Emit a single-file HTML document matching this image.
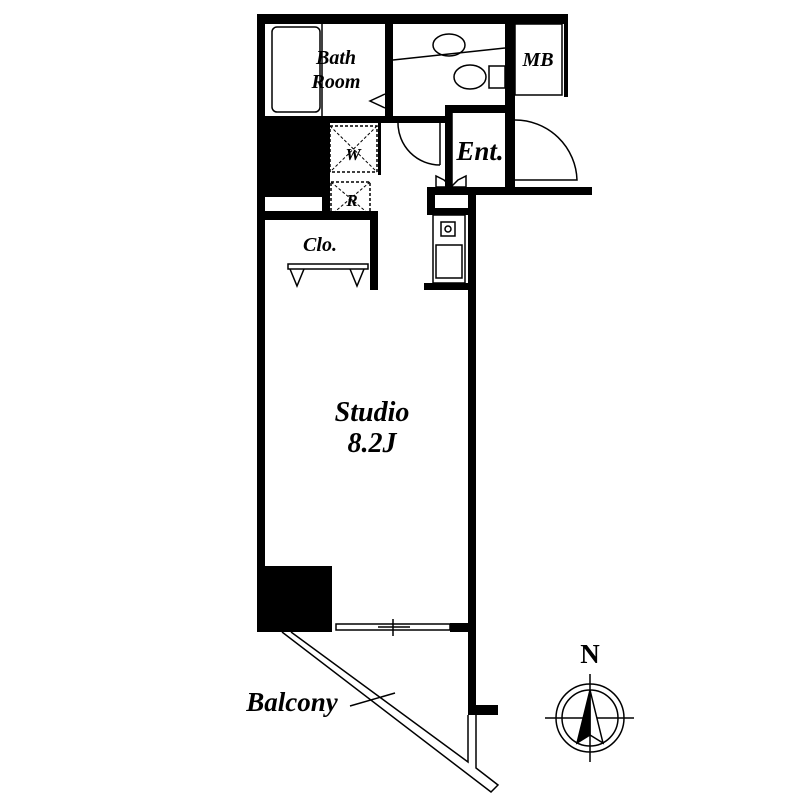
<!DOCTYPE html>
<html><head><meta charset="utf-8"><style>
body{margin:0;background:#fff}
svg{display:block}
text{font-family:"Liberation Serif",serif;font-weight:bold;font-style:italic;fill:#000}
</style></head><body>
<svg width="800" height="800" viewBox="0 0 800 800" xmlns="http://www.w3.org/2000/svg">
<g fill="#000">
<rect x="257" y="14" width="311" height="10"/>
<rect x="257" y="14" width="8" height="618"/>
<rect x="385" y="24" width="8" height="99"/>
<rect x="505" y="24" width="10" height="165"/>
<rect x="564" y="24" width="4" height="73"/>
<rect x="265" y="116" width="180" height="7"/>
<rect x="445" y="105" width="62" height="8"/>
<rect x="445" y="105" width="7" height="85"/>
<rect x="265" y="122" width="57" height="75"/>
<rect x="322" y="122" width="8" height="96"/>
<rect x="265" y="211" width="65" height="9"/>
<rect x="322" y="211" width="56" height="9"/>
<rect x="370" y="218" width="8" height="72"/>
<rect x="378" y="122" width="3" height="53"/>
<rect x="427" y="187" width="165" height="8"/>
<rect x="427" y="187" width="8" height="28"/>
<rect x="427" y="208" width="49" height="7"/>
<rect x="424" y="283" width="52" height="7"/>
<rect x="468" y="187" width="8" height="525"/>
<rect x="468" y="705" width="30" height="10"/>
<rect x="257" y="566" width="75" height="66"/>
<rect x="450" y="623" width="26" height="9"/>
</g>
<g fill="none" stroke="#000" stroke-width="1.5">
<rect x="272" y="27" width="48" height="85" rx="5"/>
<line x1="322" y1="24" x2="322" y2="116"/>
<path d="M385 94 L370 101 L385 108"/>
<ellipse cx="449" cy="45" rx="16" ry="11"/>
<line x1="393" y1="60" x2="505" y2="48"/>
<ellipse cx="470" cy="77" rx="16" ry="12"/>
<rect x="489" y="66" width="16" height="22"/>
<rect x="515" y="24" width="47" height="71"/>
<rect x="259" y="65" width="4" height="25"/>
<rect x="259" y="282" width="4" height="25"/>
<rect x="259" y="345" width="4" height="25"/>
<rect x="386" y="60" width="6" height="35"/>
<rect x="397" y="117" width="42" height="5"/>
<path d="M398 123 A42 42 0 0 0 440 165"/>
<line x1="440" y1="123" x2="440" y2="165"/>
<line x1="452" y1="113" x2="452" y2="187"/>
<rect x="508" y="120" width="5" height="60"/>
<path d="M515 120 A62 62 0 0 1 577 180 L515 180"/>
<rect x="330" y="126" width="47" height="46" stroke-dasharray="3,2"/>
<path d="M330 126 L377 172 M377 126 L330 172" stroke-dasharray="3,2" stroke-width="1"/>
<rect x="331" y="182" width="39" height="33" stroke-dasharray="3,2"/>
<path d="M331 182 L370 215 M370 182 L331 215" stroke-dasharray="3,2" stroke-width="1"/>
<path d="M436 176 L436 187 L466 187 L466 176 L458 180 L451 187 L444 180 Z"/>
<rect x="433" y="215" width="32" height="68"/>
<rect x="441" y="222" width="14" height="14"/>
<circle cx="448" cy="229" r="3"/>
<rect x="436" y="245" width="26" height="33"/>
<rect x="288" y="264" width="80" height="5"/>
<path d="M290 269 L297 286 L304 269 M350 269 L357 286 L364 269"/>
<rect x="336" y="624" width="114" height="6"/>
<line x1="378" y1="627" x2="410" y2="627"/>
<line x1="393" y1="619" x2="393" y2="636"/>
<!-- balcony rail -->
<path d="M291 632 L468 762 L468 715"/>
<path d="M476 715 L476 768 L498 785 L491 792 L282 632"/>
<line x1="350" y1="706" x2="395" y2="693"/>
</g>
<g stroke="#000" fill="none" stroke-width="1.5">
<circle cx="590" cy="718" r="34"/>
<circle cx="590" cy="718" r="28"/>
<line x1="590" y1="674" x2="590" y2="762"/>
<line x1="545" y1="718" x2="634" y2="718"/>
<path d="M590 690 L603 743 L590 735 Z" fill="#fff"/>
<path d="M590 690 L577 743 L590 735 Z" fill="#000"/>
</g>
<text x="590" y="663" font-size="27" text-anchor="middle" style="font-style:normal">N</text>
<g font-size="20">
<text x="336" y="64" text-anchor="middle">Bath</text>
<text x="336" y="88" text-anchor="middle">Room</text>
<text x="538" y="66" text-anchor="middle">MB</text>
<text x="353" y="160" text-anchor="middle" font-size="17">W</text>
<text x="352" y="206" text-anchor="middle" font-size="17">R</text>
<text x="320" y="251" text-anchor="middle">Clo.</text>
</g>
<text x="480" y="160" text-anchor="middle" font-size="27">Ent.</text>
<text x="372" y="421" text-anchor="middle" font-size="28">Studio</text>
<text x="372" y="452" text-anchor="middle" font-size="28">8.2J</text>
<text x="292" y="711" text-anchor="middle" font-size="27">Balcony</text>
</svg>
</body></html>
